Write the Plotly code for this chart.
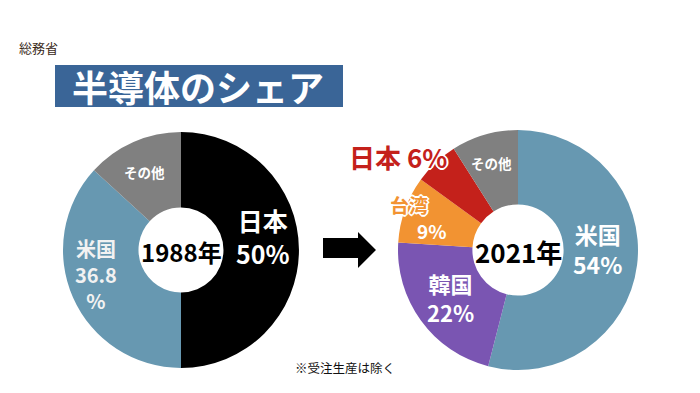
import plotly.graph_objects as go

W, H = 700, 393

# Data
labels_1988 = ["日本", "米国", "その他"]
values_1988 = [50, 36.8, 13.2]
colors_1988 = ["#000000", "#6798B1", "#808080"]

labels_2021 = ["米国", "韓国", "台湾", "日本", "その他"]
values_2021 = [54, 22, 9, 6, 9]
colors_2021 = ["#6798B1", "#7A55B2", "#F29332", "#C4211B", "#808080"]

FONT = "Noto Sans CJK JP"
OUTLINE = "1px 1px 0 #fff, -1px -1px 0 #fff, 1px -1px 0 #fff, -1px 1px 0 #fff, 0 2px 0 #fff, 2px 0 0 #fff, 0 -2px 0 #fff, -2px 0 0 #fff"


def px(x):
    return x / W


def py(y):
    return 1 - y / H


fig = go.Figure()

fig.add_trace(go.Pie(
    labels=labels_1988, values=values_1988, sort=False, direction="clockwise",
    rotation=0, hole=0.36, marker=dict(colors=colors_1988, line=dict(width=0)),
    textinfo="none", hoverinfo="label+value",
    domain=dict(x=[px(63), px(299)], y=[py(369), py(131)]),
    showlegend=False,
))
fig.add_trace(go.Pie(
    labels=labels_2021, values=values_2021, sort=False, direction="clockwise",
    rotation=0, hole=0.38, marker=dict(colors=colors_2021, line=dict(width=0)),
    textinfo="none", hoverinfo="label+value",
    domain=dict(x=[px(398), px(638)], y=[py(370), py(130)]),
    showlegend=False,
))

anns = []


def ann(text, x, y, size, color, bold=True, shadow=None, xanchor="center"):
    t = f"<b>{text}</b>" if bold else text
    f = dict(family=FONT, size=size, color=color)
    if shadow:
        f["shadow"] = shadow
    anns.append(dict(text=t, x=px(x), y=py(y), xref="paper", yref="paper",
                     showarrow=False, xanchor=xanchor, yanchor="middle",
                     borderpad=0, font=f))


# Header texts
ann("総務省", 18, 47, 13, "#3a2a1a", bold=False, xanchor="left")
ann("半導体のシェア", 198, 86, 36, "#ffffff")
ann("※受注生産は除く", 345, 367, 12.5, "#111111", bold=False)

# 1988 labels
ann("1988年", 181, 251, 24, "#000000")
ann("日本<br>50%", 263, 236, 25, "#ffffff")
ann("米国<br>36.8<br>%", 96, 274, 20, "#f2f2f2")
ann("その他", 144, 172, 13.5, "#ffffff")

# 2021 labels
ann("2021年", 518, 251, 26, "#000000")
ann("米国<br>54%", 597, 249, 23, "#ffffff")
ann("韓国<br>22%", 451, 297, 22, "#ffffff")
ann("台湾", 409, 204, 19, "#F29332", shadow=OUTLINE)
ann("9%", 432, 230, 19, "#ffffff")
ann("日本 6%", 398, 157, 26, "#C4211B", shadow=OUTLINE)
ann("その他", 491, 163, 13.5, "#ffffff")

fig.update_layout(annotations=anns)

# Title box and arrow shapes
shapes = [
    dict(type="rect", xref="paper", yref="paper", x0=px(55), x1=px(343),
         y0=py(107), y1=py(65), fillcolor="#3A6597", line=dict(width=0), layer="below"),
]
pts = [(323, 238), (358, 238), (358, 232), (376, 250), (358, 268), (358, 258), (323, 258)]
path = "M " + " L ".join(f"{px(x):.5f},{py(y):.5f}" for x, y in pts) + " Z"
shapes.append(dict(type="path", xref="paper", yref="paper", path=path,
                   fillcolor="#000000", line=dict(width=0)))

fig.update_layout(
    shapes=shapes,
    width=W, height=H,
    margin=dict(l=0, r=0, t=0, b=0),
    paper_bgcolor="#ffffff", plot_bgcolor="#ffffff",
    font=dict(family=FONT),
)

fig.write_html("out.html", config={"displayModeBar": False},
               post_script="document.body.style.margin='0';document.body.style.overflow='hidden';")
